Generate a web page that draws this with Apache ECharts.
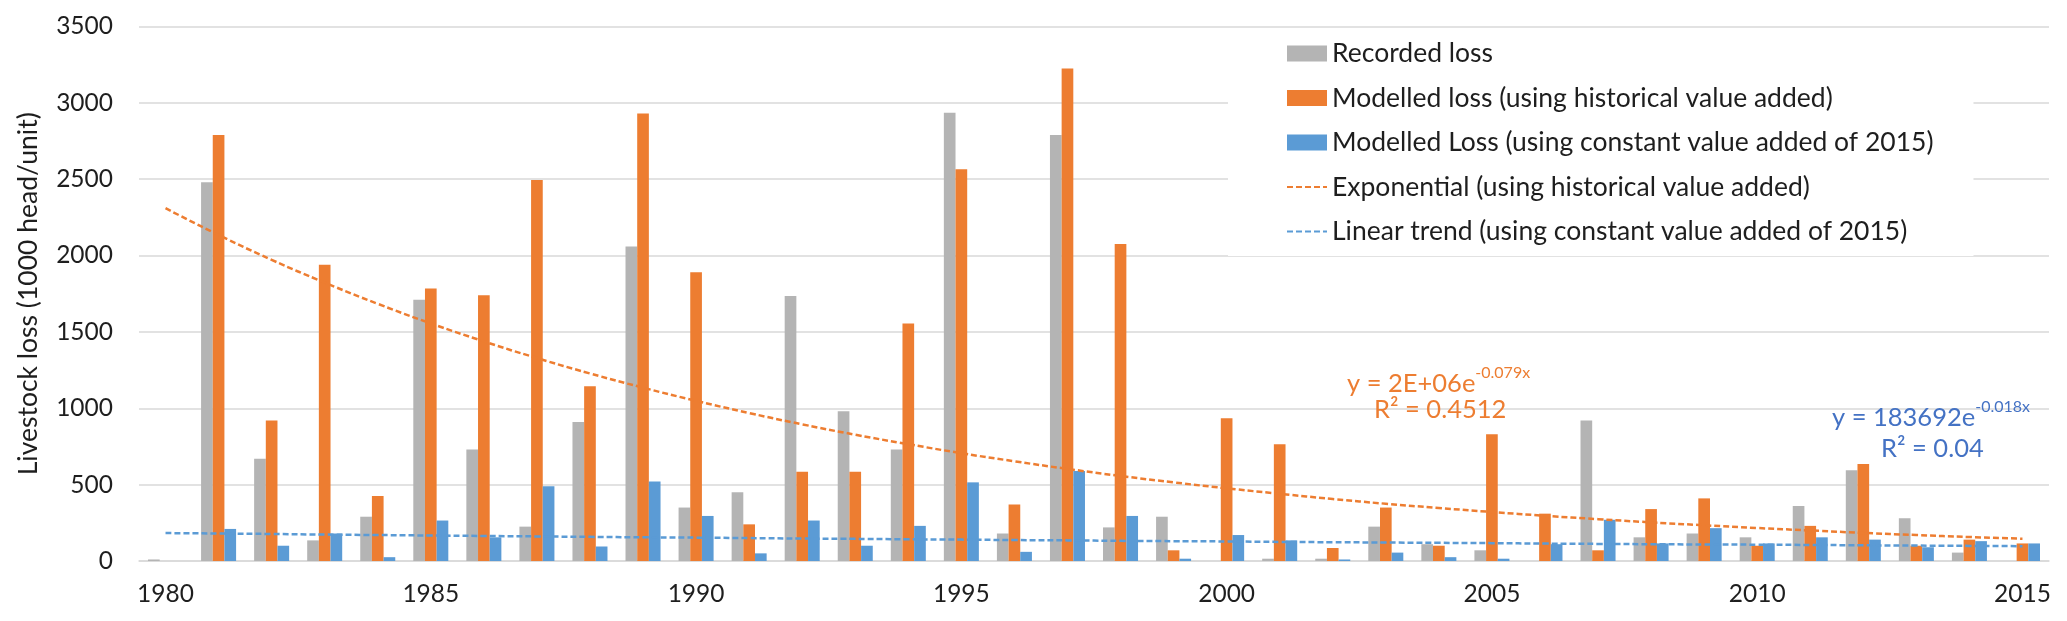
<!DOCTYPE html>
<html>
<head>
<meta charset="utf-8">
<script src="https://cdn.jsdelivr.net/npm/echarts@6/dist/echarts.min.js"></script>
<style>
html,body{margin:0;padding:0;background:#fff;}
#chart{width:2067px;height:621px;}
</style>
</head>
<body>
<div id="chart"></div>
<script>
const years = ['1980','1981','1982','1983','1984','1985','1986','1987','1988','1989','1990','1991','1992','1993','1994','1995','1996','1997','1998','1999','2000','2001','2002','2003','2004','2005','2006','2007','2008','2009','2010','2011','2012','2013','2014','2015'];
const recordedLoss = [10,2480,670,135,290,1710,730,225,910,2060,350,450,1735,980,730,2935,180,2790,220,290,0,15,15,225,110,70,0,920,155,180,155,360,595,280,55,0];
const modelledHistorical = [0,2790,920,1940,425,1785,1740,2495,1145,2930,1890,240,585,585,1555,2565,370,3225,2075,70,935,765,85,350,100,830,310,70,340,410,100,230,635,100,140,115];
const modelledConstant = [0,210,100,180,25,265,155,490,95,520,295,50,265,100,230,515,60,590,295,15,170,135,10,55,25,15,110,270,115,215,115,155,140,90,130,115];
// trend line values
const expTrend = [2310,2135,1972,1823,1684,1556,1438,1329,1228,1135,1049,969,895,827,765,706,653,603,557,515,476,440,406,375,347,321,296,274,253,234,216,200,184,170,157,146];
const linTrend = [183,180,177,173,170,167,164,161,158,155,153,150,147,145,142,140,137,135,132,130,128,125,123,121,119,117,114,112,110,108,107,105,103,101,99,97];
const seriesNames = ['Recorded loss','Modelled loss (using historical value added)','Modelled Loss (using constant value added of 2015)','Exponential (using historical value added)','Linear trend (using constant value added of 2015)'];
const yTicks = {min:0, max:3500, interval:500};

const FONT = 'Lato, "Open sans", sans-serif';
const TXT = '#1e1e1e';
const noSym = {color:'rgba(0,0,0,0)', borderColor:'rgba(0,0,0,0)', borderWidth:0};
const chart = echarts.init(document.getElementById('chart'));
chart.setOption({
  animation:false,
  backgroundColor:'#fff',
  textStyle:{fontFamily:FONT},
  grid:{left:139, right:18, top:26.5, bottom:60, containLabel:false},
  legend:{
    orient:'vertical', left:1228, top:29,
    padding:[11,40,11,58],
    backgroundColor:'#fff',
    itemWidth:40, itemHeight:16, itemGap:17.5,
    textStyle:{fontFamily:FONT, fontSize:26.5, color:TXT, lineHeight:26.5},
    data:[
      {name:seriesNames[0], icon:'rect'},
      {name:seriesNames[1], icon:'rect'},
      {name:seriesNames[2], icon:'rect'},
      {name:seriesNames[3], itemStyle:noSym},
      {name:seriesNames[4], itemStyle:noSym}
    ],
    z:10
  },
  xAxis:{
    type:'category', data:years, boundaryGap:true,
    axisLine:{show:true, lineStyle:{color:'#D9D9D9', width:1.5}},
    axisTick:{show:false},
    axisLabel:{interval:4, fontSize:24.5, color:TXT, fontFamily:FONT, margin:21},
    splitLine:{show:false}
  },
  yAxis:{
    type:'value', min:yTicks.min, max:yTicks.max, interval:yTicks.interval,
    name:'Livestock loss (1000 head/unit)', nameLocation:'middle', nameGap:97,
    nameTextStyle:{fontSize:26.5, color:TXT, fontFamily:FONT},
    axisLine:{show:false}, axisTick:{show:false},
    axisLabel:{fontSize:24.5, color:TXT, fontFamily:FONT, margin:26, formatter:function(v){return String(v);}},
    splitLine:{lineStyle:{color:'#D9D9D9', width:1.5}}
  },
  series:[
    {name:seriesNames[0], type:'bar', data:recordedLoss, itemStyle:{color:'#B4B4B4'}, barGap:'0%', barCategoryGap:'34%'},
    {name:seriesNames[1], type:'bar', data:modelledHistorical, itemStyle:{color:'#ED7D31'}, barGap:'0%', barCategoryGap:'34%'},
    {name:seriesNames[2], type:'bar', data:modelledConstant, itemStyle:{color:'#5B9BD5'}, barGap:'0%', barCategoryGap:'34%'},
    {name:seriesNames[3], type:'line', data:expTrend, symbol:'none', smooth:true, itemStyle:{color:'#ED7D31'}, lineStyle:{color:'#ED7D31', width:2.5, type:[6,3]}, z:5},
    {name:seriesNames[4], type:'line', data:linTrend, symbol:'none', smooth:true, itemStyle:{color:'#5B9BD5'}, lineStyle:{color:'#5B9BD5', width:2.5, type:[6,3]}, z:5}
  ],
  graphic:[
    {type:'text', left:1347, top:365, z:20, style:{
      text:'{a|y = 2E+06e}{s|-0.079x}', font:'25.5px '+FONT,
      rich:{a:{fontSize:25.5, fontFamily:FONT, fill:'#ED7D31', lineHeight:32, verticalAlign:'bottom'}, s:{fontSize:16, fontFamily:FONT, fill:'#ED7D31', lineHeight:32, verticalAlign:'top'}}
    }},
    {type:'text', left:1374, top:397, z:20, style:{
      text:'R² = 0.4512', fill:'#ED7D31', font:'25.5px '+FONT
    }},
    {type:'text', left:1832, top:399, z:20, style:{
      text:'{a|y = 183692e}{s|-0.018x}', font:'25.5px '+FONT,
      rich:{a:{fontSize:25.5, fontFamily:FONT, fill:'#4472C4', lineHeight:32, verticalAlign:'bottom'}, s:{fontSize:16, fontFamily:FONT, fill:'#4472C4', lineHeight:32, verticalAlign:'top'}}
    }},
    {type:'text', left:1881, top:436, z:20, style:{
      text:'R² = 0.04', fill:'#4472C4', font:'25.5px '+FONT
    }}
  ]
});
</script>
</body>
</html>
